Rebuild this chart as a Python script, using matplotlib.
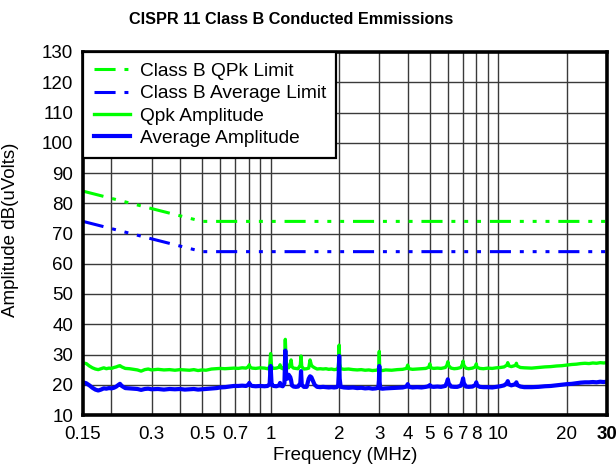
import matplotlib
matplotlib.use("Agg")
import matplotlib.pyplot as plt
from matplotlib.ticker import FixedLocator, FixedFormatter, NullLocator

plt.rcParams["font.family"] = ["Liberation Sans", "DejaVu Sans"]

# CISPR 11 class B limit lines (MHz, dBuV)
limit_freq = [0.15, 0.5, 30.0]
qpk_limit = [84.0, 74.0, 74.0]
avg_limit = [74.0, 64.0, 64.0]

# measured scan, frequency in MHz
freq = [
    0.150, 0.155, 0.160, 0.165, 0.170, 0.175, 0.180, 0.185, 0.190, 0.195,
    0.200, 0.205, 0.210, 0.215, 0.218, 0.222, 0.230, 0.240, 0.250, 0.260,
    0.270, 0.280, 0.290, 0.300, 0.320, 0.340, 0.360, 0.380, 0.400, 0.420,
    0.440, 0.460, 0.480, 0.500, 0.520, 0.550, 0.580, 0.600, 0.630, 0.660,
    0.690, 0.720, 0.750, 0.780, 0.800, 0.806, 0.812, 0.830, 0.860, 0.900,
    0.940, 0.970, 0.990, 1.000, 1.010, 1.030, 1.060, 1.090, 1.100, 1.110,
    1.130, 1.150, 1.160, 1.170, 1.185, 1.200, 1.220, 1.230, 1.240, 1.260,
    1.290, 1.320, 1.350, 1.360, 1.370, 1.400, 1.440, 1.470, 1.490, 1.510,
    1.530, 1.560, 1.600, 1.650, 1.700, 1.750, 1.800, 1.850, 1.900, 1.950,
    1.980, 1.990, 2.000, 2.010, 2.030, 2.100, 2.200, 2.300, 2.400, 2.500,
    2.600, 2.700, 2.800, 2.900, 2.970, 2.990, 3.000, 3.010, 3.030, 3.100,
    3.200, 3.400, 3.600, 3.800, 3.950, 4.000, 4.050, 4.200, 4.400, 4.600,
    4.800, 4.950, 5.000, 5.050, 5.200, 5.400, 5.600, 5.850, 5.950, 6.000,
    6.050, 6.200, 6.400, 6.600, 6.850, 6.950, 7.000, 7.050, 7.200, 7.400,
    7.700, 7.950, 8.000, 8.050, 8.300, 8.600, 9.000, 9.400, 9.800, 10.20,
    10.60, 10.90, 11.00, 11.10, 11.40, 11.90, 12.00, 12.10, 12.50, 13.00,
    14.00, 15.00, 16.00, 17.00, 18.00, 19.00, 20.00, 21.00, 22.00, 23.00,
    24.00, 25.00, 26.00, 27.00, 28.00, 29.00, 30.00,
]

qpk_amp = [
    27.2, 27.0, 26.2, 25.6, 25.2, 25.0, 25.3, 25.6, 25.3, 25.5,
    25.4, 25.7, 25.9, 26.2, 26.3, 25.9, 25.4, 25.3, 25.1, 24.9,
    24.5, 25.0, 25.2, 24.9, 25.1, 24.9, 25.0, 24.8, 25.0, 24.9,
    24.8, 25.0, 24.7, 24.9, 24.8, 25.2, 25.3, 25.4, 25.3, 25.4,
    25.5, 25.4, 25.6, 25.5, 26.0, 26.6, 25.8, 25.5, 25.4, 25.6,
    25.5, 25.3, 25.8, 30.3, 25.9, 25.4, 25.5, 25.8, 26.6, 25.6,
    25.3, 26.0, 35.0, 27.5, 25.8, 25.6, 27.0, 28.2, 26.0, 25.5,
    25.4, 25.3, 26.5, 29.5, 26.0, 25.2, 25.3, 25.5, 28.2, 26.5,
    26.0, 25.6, 25.2, 25.3, 25.2, 25.3, 25.1, 25.2, 25.0, 25.1,
    25.6, 27.5, 33.1, 27.0, 25.3, 25.1, 25.2, 25.0, 24.9, 25.0,
    24.8, 24.9, 24.7, 24.8, 25.0, 26.5, 31.0, 26.0, 24.8, 24.7,
    24.9, 24.8, 25.0, 25.1, 25.4, 26.5, 25.3, 25.1, 25.2, 25.3,
    25.4, 25.8, 26.9, 25.6, 25.4, 25.5, 25.4, 25.7, 26.5, 27.6,
    26.3, 25.5, 25.3, 25.4, 25.7, 26.8, 27.8, 26.5, 25.5, 25.3,
    25.5, 26.0, 26.9, 25.8, 25.4, 25.3, 25.5, 25.4, 25.6, 25.7,
    25.9, 26.5, 27.3, 26.3, 26.0, 26.4, 27.1, 26.2, 25.7, 25.6,
    25.5, 25.7, 25.9, 26.0, 26.2, 26.3, 26.5, 26.7, 26.8, 27.0,
    27.1, 27.0, 27.2, 27.1, 27.3, 27.2, 27.3,
]

avg_amp = [
    20.8, 20.5, 19.8, 19.0, 18.4, 18.1, 18.4, 18.8, 18.7, 18.9,
    18.8, 19.0, 19.4, 20.0, 20.3, 19.6, 18.9, 18.8, 18.7, 18.6,
    18.3, 18.6, 18.7, 18.5, 18.6, 18.4, 18.6, 18.5, 18.6, 18.4,
    18.5, 18.6, 18.4, 18.5, 18.6, 18.7, 18.9, 19.1, 19.2, 19.4,
    19.6, 19.6, 19.7, 19.6, 20.0, 20.6, 19.9, 19.6, 19.5, 19.6,
    19.5, 19.6, 20.2, 26.2, 20.0, 19.6, 19.5, 19.8, 20.6, 19.7,
    19.5, 20.5, 31.3, 23.0, 22.0, 23.3, 22.5, 21.5, 19.8, 19.4,
    19.3, 19.4, 20.5, 24.5, 20.0, 19.3, 19.3, 22.0, 22.8, 22.5,
    21.5, 20.0, 19.3, 19.2, 19.3, 19.2, 19.1, 19.2, 19.1, 19.2,
    19.8, 23.0, 29.5, 22.0, 19.3, 19.1, 19.0, 19.1, 18.9, 19.0,
    18.8, 18.9, 18.7, 18.8, 19.0, 21.5, 26.2, 21.0, 18.8, 18.7,
    18.8, 18.9, 19.0, 19.1, 19.4, 20.2, 19.3, 19.1, 19.2, 19.1,
    19.3, 19.5, 19.9, 19.4, 19.3, 19.4, 19.3, 19.6, 20.8, 21.8,
    20.5, 19.4, 19.3, 19.3, 19.7, 21.0, 22.1, 20.6, 19.4, 19.3,
    19.4, 20.0, 20.8, 19.8, 19.3, 19.2, 19.2, 19.1, 19.3, 19.5,
    19.8, 20.5, 21.2, 20.2, 19.8, 20.2, 20.8, 19.9, 19.4, 19.2,
    19.2, 19.3, 19.5, 19.6, 19.8, 20.0, 20.2, 20.3, 20.5, 20.7,
    20.8, 20.8, 20.9, 20.8, 21.0, 20.9, 21.0,
]

grid_freq = [0.2, 0.3, 0.4, 0.5, 0.6, 0.7, 0.8, 0.9, 1, 2, 3, 4, 5, 6, 7, 8, 9, 10, 20]
tick_freq = [0.15] + grid_freq + [30]
tick_text = ["0.15", "", "0.3", "", "0.5", "", "0.7", "", "", "1", "2", "3",
             "4", "5", "6", "7", "8", "", "10", "20", "30"]
y_ticks = list(range(10, 131, 10))

GREEN = "#00ff00"
BLUE = "#0000ff"
# long dash followed by three dots
DASH_DOTS = (0, (6.9, 2.9, 1.3, 2.9, 1.3, 2.9, 1.3, 2.9))

fig = plt.figure(figsize=(6.16, 4.71), dpi=100)
ax = fig.add_axes([83 / 616, 1 - 415 / 471, 524 / 616, 363 / 471])

ax.plot(limit_freq, qpk_limit, color=GREEN, lw=2.2, ls=DASH_DOTS,
        label="Class B QPk Limit", zorder=3)
ax.plot(limit_freq, avg_limit, color=BLUE, lw=2.2, ls=DASH_DOTS,
        label="Class B Average Limit", zorder=3)
ax.plot(freq, qpk_amp, color=GREEN, lw=2.4, label="Qpk Amplitude", zorder=4)
ax.plot(freq, avg_amp, color=BLUE, lw=3.0, label="Average Amplitude", zorder=5)

ax.set_xscale("log")
ax.set_xlim(0.15, 30)
ax.set_ylim(10, 130)

ax.xaxis.set_major_locator(FixedLocator(tick_freq))
ax.xaxis.set_major_formatter(FixedFormatter(tick_text))
ax.xaxis.set_minor_locator(NullLocator())
ax.set_yticks(y_ticks)
ax.tick_params(axis="both", length=0, labelsize=13.5)
ax.tick_params(axis="x", pad=8)
ax.tick_params(axis="y", pad=7)
for lbl in ax.get_xticklabels():
    if lbl.get_text() == "30":
        lbl.set_fontweight("bold")

for f in grid_freq:
    ax.axvline(f, color="#3a3a3a", lw=1.0, zorder=1)
for y in y_ticks[1:-1]:
    ax.axhline(y, color="#3a3a3a", lw=1.0, zorder=1)

for sp in ax.spines.values():
    sp.set_linewidth(2.6)
    sp.set_zorder(6)

ax.set_xlabel("Frequency (MHz)", fontsize=13.5, labelpad=3)
ax.set_ylabel("Amplitude dB(uVolts)", fontsize=13.5)
ax.yaxis.set_label_coords(-0.122, 0.51)

leg = ax.legend(loc="upper left", bbox_to_anchor=(0, 1), borderaxespad=0,
                fontsize=13.8, fancybox=False, framealpha=1, edgecolor="black",
                handlelength=1.9, handletextpad=0.5, labelspacing=0.26,
                borderpad=0.55)
leg.get_frame().set_linewidth(1.6)
leg.set_zorder(7)

fig.text(291 / 616, 1 - 19.5 / 471, "CISPR 11 Class B Conducted Emmissions",
         ha="center", va="center", fontsize=11.7, fontweight="bold")

fig.savefig("out.png", dpi=100)
